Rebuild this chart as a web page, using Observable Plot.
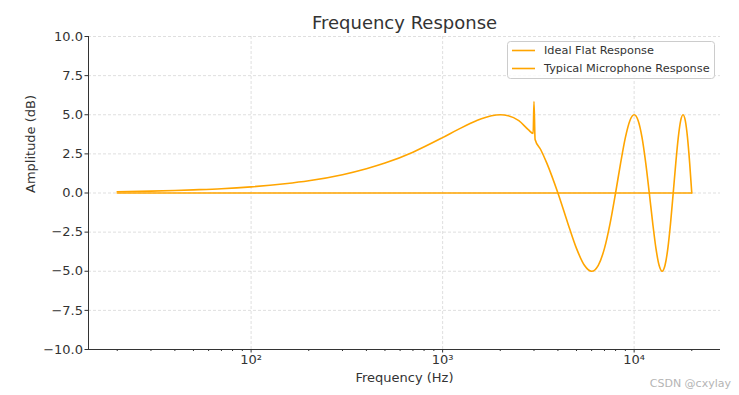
<!DOCTYPE html>
<html>
<head>
<meta charset="utf-8">
<script src="https://cdn.jsdelivr.net/npm/d3@7"></script>
<script src="https://cdn.jsdelivr.net/npm/@observablehq/plot@0.6"></script>
<style>
  html, body { margin: 0; padding: 0; background: #fff; }
  #chart svg { display: block; }
</style>
</head>
<body>
<div id="chart"></div>
<script>
// ---- Data ----
const idealFreq = [20, 20000];
const idealAmp  = [0, 0];

const micFreq = [20, 30, 40, 50, 70, 100, 150, 200, 300, 400, 500, 700, 1000, 1200, 1500, 1800, 2000, 2200, 2500, 2800, 2970, 3000, 3040, 3250,
  3500, 4000, 4500, 5000, 5500, 6000, 6500, 7000, 7500, 8000, 8500, 9000, 9500, 10000, 10500, 11000, 11500, 12000,
  12500, 13000, 13500, 14000, 14500, 15000, 15500, 16000, 16500, 17000, 17500, 18000, 18500, 19000, 19500, 20000];
const micAmp  = [0.08, 0.12, 0.16, 0.20, 0.27, 0.39, 0.59, 0.78, 1.17, 1.55, 1.91, 2.61, 3.54, 4.05, 4.62, 4.94, 5.0, 4.94, 4.62, 4.05, 3.8, 5.85, 3.42, 2.78,
  1.91, 0, -1.91, -3.54, -4.62, -5.0, -4.62, -3.54, -1.91, 0, 1.91, 3.54, 4.62, 5.0, 4.62, 3.54, 1.91, 0,
  -1.91, -3.54, -4.62, -5.0, -4.62, -3.54, -1.91, 0, 1.91, 3.54, 4.62, 5.0, 4.62, 3.54, 1.91, 0];

const seriesNames = ["Ideal Flat Response", "Typical Microphone Response"];
const yTicks = [-10, -7.5, -5, -2.5, 0, 2.5, 5, 7.5, 10];
const xMajorTicks = [100, 1000, 10000];
const xMajorLabels = ["10²", "10³", "10⁴"];
const titleText = "Frequency Response";
const xLabel = "Frequency (Hz)";
const yLabel = "Amplitude (dB)";
const watermark = "CSDN @cxylay";

// ---- Build tables ----
const ideal = idealFreq.map((f, i) => ({f, a: idealAmp[i]}));
const mic = micFreq.map((f, i) => ({f, a: micAmp[i]}));

const xDomain = [Math.pow(10, 1.151), Math.pow(10, 4.451)];
const minorTicks = [];
for (let e = 1; e <= 4; e++) for (let m = 2; m <= 9; m++) {
  const v = m * Math.pow(10, e);
  if (v >= xDomain[0] && v <= xDomain[1]) minorTicks.push(v);
}

const color = "#FFA500";
const textColor = "#333";
const fmtY = d => d.toFixed(1).replace("-", "\u2212");

const plot = Plot.plot({
  width: 739,
  height: 395,
  marginLeft: 88,
  marginRight: 19,
  marginTop: 36,
  marginBottom: 46,
  style: {fontFamily: "DejaVu Sans, sans-serif", fontSize: "13px", color: textColor, background: "#fff"},
  x: {type: "log", domain: xDomain},
  y: {domain: [-10, 10]},
  marks: [
    Plot.gridY(yTicks, {stroke: "#b0b0b0", strokeOpacity: 0.5, strokeDasharray: "3,2", strokeWidth: 0.8}),
    Plot.gridX(xMajorTicks, {stroke: "#b0b0b0", strokeOpacity: 0.5, strokeDasharray: "3,2", strokeWidth: 0.8}),
    Plot.axisY({ticks: yTicks, tickFormat: fmtY, tickSize: 3.5, tickPadding: 2, label: null, stroke: textColor}),
    Plot.axisX({ticks: xMajorTicks, tickFormat: d => xMajorLabels[xMajorTicks.indexOf(d)], tickSize: 3.5, tickPadding: 1.5, label: null, stroke: textColor}),
    Plot.axisX({ticks: minorTicks, tickFormat: () => "", tickSize: 2, label: null, stroke: textColor}),
    Plot.ruleY([-10], {stroke: textColor, strokeWidth: 1}),
    Plot.ruleX([xDomain[0]], {stroke: textColor, strokeWidth: 1}),
    Plot.line(ideal, {x: "f", y: "a", stroke: color, strokeWidth: 1.6}),
    Plot.line(mic, {x: "f", y: "a", stroke: color, strokeWidth: 1.6, curve: "monotone-x"}),
    Plot.text([titleText], {text: d => d, frameAnchor: "top", dy: -20, fontSize: 18, fill: textColor}),
    Plot.text([xLabel], {text: d => d, frameAnchor: "bottom", dy: 32, fontSize: 13, fill: textColor}),
    Plot.text([yLabel], {text: d => d, frameAnchor: "left", dx: -58, rotate: -90, fontSize: 13, fill: textColor})
  ]
});

document.getElementById("chart").appendChild(plot);

// ---- Legend (upper right) ----
const svg = d3.select(plot);
const lg = svg.append("g").attr("class", "legend").attr("text-anchor", "start");
lg.append("rect")
  .attr("x", 507.5).attr("y", 41.5).attr("width", 207).attr("height", 37)
  .attr("rx", 3).attr("fill", "#fff").attr("fill-opacity", 0.8)
  .attr("stroke", "#cccccc").attr("stroke-width", 1);
seriesNames.forEach((name, i) => {
  const y = 50.5 + i * 18;
  lg.append("line").attr("x1", 512).attr("x2", 535).attr("y1", y).attr("y2", y)
    .attr("stroke", color).attr("stroke-width", 1.6);
  lg.append("text").attr("x", 544).attr("y", y).attr("dy", "0.35em")
    .attr("text-anchor", "start")
    .attr("font-family", "DejaVu Sans, sans-serif").attr("font-size", 11.3)
    .attr("fill", textColor).text(name);
});

// ---- Watermark ----
svg.append("text").attr("x", 731).attr("y", 387).attr("text-anchor", "end")
  .attr("font-family", "DejaVu Sans, sans-serif").attr("font-size", 11)
  .attr("fill", "#b5b5b5").text(watermark);
</script>
</body>
</html>
